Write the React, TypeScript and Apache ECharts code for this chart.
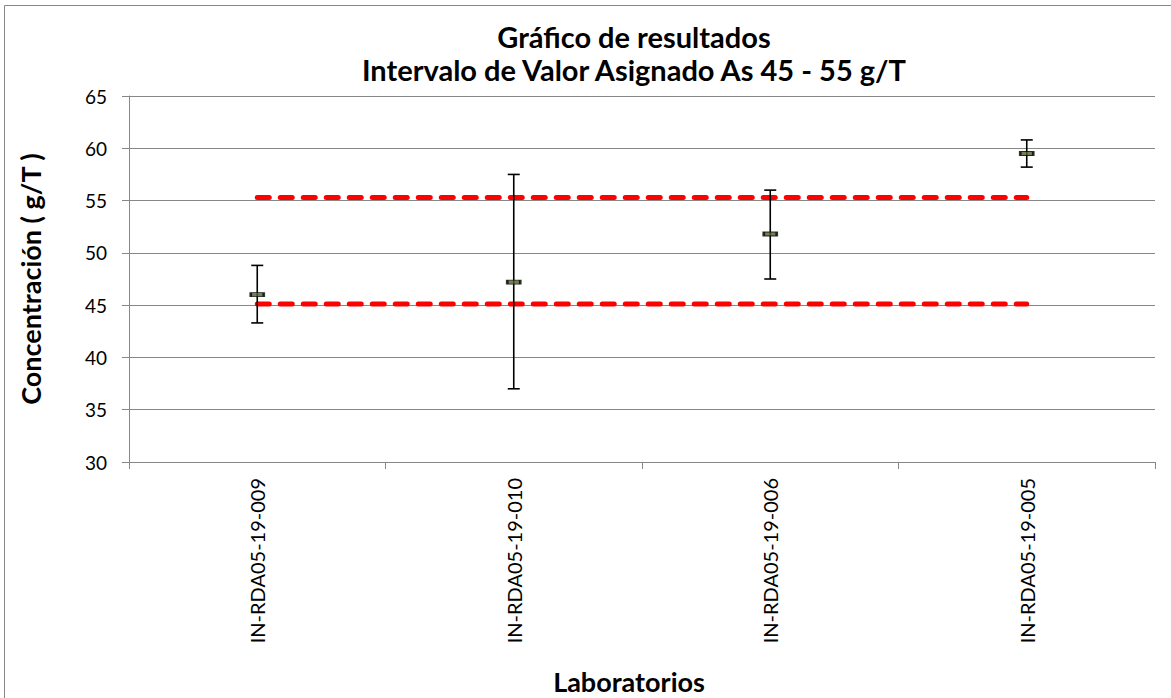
import React, { useEffect, useRef } from "react";
import * as echarts from "echarts";

const labs = ["IN-RDA05-19-009", "IN-RDA05-19-010", "IN-RDA05-19-006", "IN-RDA05-19-005"];
const results = [46.0, 47.2, 51.8, 59.5];
const upperErr = [48.8, 57.5, 56.0, 60.8];
const lowerErr = [43.3, 37.0, 47.5, 58.2];
const lowerLimit = [45.1, 45.1, 45.1, 45.1];
const upperLimit = [55.3, 55.3, 55.3, 55.3];
const yTicks = { min: 30, max: 65, interval: 5 };

const titleLines = ["Gráfico de resultados", "Intervalo de Valor Asignado As 45 - 55 g/T"];
const xTitle = "Laboratorios";
const yTitle = "Concentración ( g/T )";

const FONT = "Lato, 'Open Sans', sans-serif";
const GRID = "#878787";

export default function App() {
  const ref = useRef<HTMLDivElement>(null);
  useEffect(() => {
    if (!ref.current) return;
    const chart = echarts.init(ref.current, null, { renderer: "svg" });
    const errData = labs.map((_, i) => [i, lowerErr[i], upperErr[i]]);
    const dashLine = {
      color: "#ff0000",
      width: 5,
      type: [12, 11] as any,
      cap: "round" as any,
    };
    chart.setOption({
      animation: false,
      backgroundColor: "#ffffff",
      grid: { left: 129, right: 16, top: 96, bottom: 236 },
      graphic: [
        {
          type: "rect",
          shape: { x: 4.5, y: 5.5, width: 1200, height: 720 },
          style: { fill: "none", stroke: GRID, lineWidth: 1 },
          silent: true,
          z: -1,
        },
        {
          type: "text",
          x: 634,
          y: 36,
          style: {
            text: titleLines[0],
            font: `bold 29px ${FONT}`,
            fill: "#000",
            textAlign: "center",
            textVerticalAlign: "middle",
          },
        },
        {
          type: "text",
          x: 634,
          y: 69,
          style: {
            text: titleLines[1],
            font: `bold 29px ${FONT}`,
            fill: "#000",
            textAlign: "center",
            textVerticalAlign: "middle",
          },
        },
        {
          type: "text",
          x: 629,
          y: 681,
          style: {
            text: xTitle,
            font: `bold 27px ${FONT}`,
            fill: "#000",
            textAlign: "center",
            textVerticalAlign: "middle",
          },
        },
        {
          type: "text",
          x: 30,
          y: 279,
          rotation: Math.PI / 2,
          style: {
            text: yTitle,
            font: `bold 27px ${FONT}`,
            fill: "#000",
            textAlign: "center",
            textVerticalAlign: "middle",
          },
        },
      ],
      xAxis: {
        type: "category",
        data: labs,
        boundaryGap: true,
        axisLine: { show: true, lineStyle: { color: GRID, width: 1 } },
        axisTick: { show: true, length: 7, inside: false, lineStyle: { color: GRID } },
        axisLabel: {
          rotate: 90,
          margin: 16,
          color: "#000",
          fontFamily: FONT,
          fontSize: 20,
          interval: 0,
        },
        splitLine: { show: false },
      },
      yAxis: {
        type: "value",
        min: yTicks.min,
        max: yTicks.max,
        interval: yTicks.interval,
        axisLine: { show: true, lineStyle: { color: GRID, width: 1 } },
        axisTick: { show: true, length: 7, inside: false, lineStyle: { color: GRID } },
        axisLabel: { margin: 22, color: "#000", fontFamily: FONT, fontSize: 19 },
        splitLine: { show: true, lineStyle: { color: GRID, width: 1 } },
      },
      series: [
        {
          type: "line",
          data: lowerLimit,
          symbol: "none",
          lineStyle: dashLine,
          z: 3,
        },
        {
          type: "line",
          data: upperLimit,
          symbol: "none",
          lineStyle: dashLine,
          z: 3,
        },
        {
          type: "custom",
          data: errData,
          z: 4,
          renderItem: (params: any, api: any) => {
            const x = api.value(0);
            const lo = api.coord([x, api.value(1)]);
            const hi = api.coord([x, api.value(2)]);
            const hw = 6;
            const style = { stroke: "#000", lineWidth: 1.6 };
            return {
              type: "group",
              children: [
                { type: "line", shape: { x1: lo[0], y1: lo[1], x2: hi[0], y2: hi[1] }, style },
                { type: "line", shape: { x1: lo[0] - hw, y1: lo[1], x2: lo[0] + hw, y2: lo[1] }, style },
                { type: "line", shape: { x1: hi[0] - hw, y1: hi[1], x2: hi[0] + hw, y2: hi[1] }, style },
              ],
            };
          },
        },
        {
          type: "scatter",
          data: results,
          symbol: "rect",
          symbolSize: [13, 4],
          itemStyle: { color: "#4f6228", borderColor: "#000", borderWidth: 1.5 },
          z: 5,
        },
      ],
    });
    return () => chart.dispose();
  }, []);
  return (
    <div
      ref={ref}
      style={{ position: "fixed", left: 0, top: 0, width: 1171, height: 698 }}
    />
  );
}
